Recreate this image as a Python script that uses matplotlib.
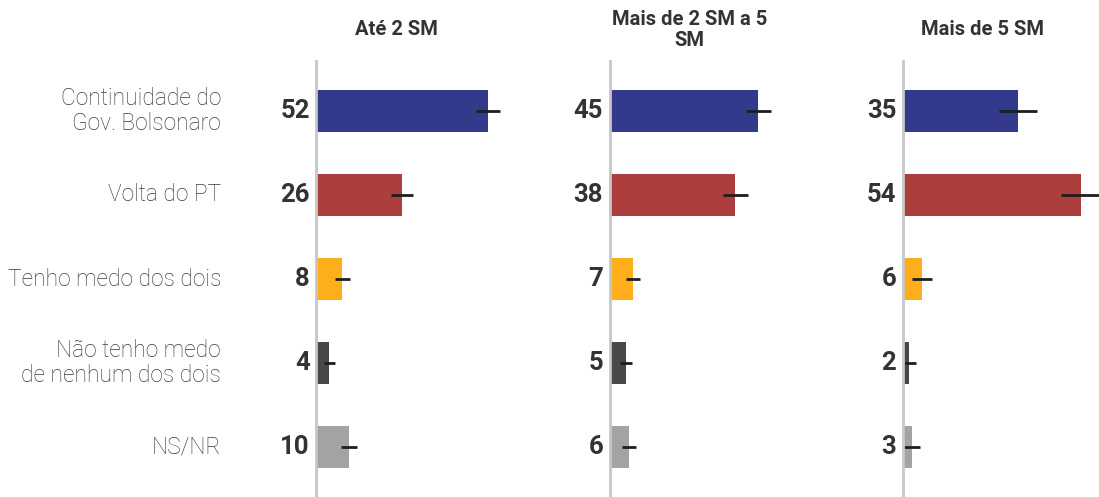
import numpy as np
import matplotlib.pyplot as plt

# categorias e valores (%)
categorias = ["Continuidade do\nGov. Bolsonaro", "Volta do PT", "Tenho medo dos dois",
              "Não tenho medo\nde nenhum dos dois", "NS/NR"]
titulos = ["Até 2 SM", "Mais de 2 SM a 5\nSM", "Mais de 5 SM"]
valores_ate2 = [52, 26, 8, 4, 10]
valores_2a5 = [45, 38, 7, 5, 6]
valores_mais5 = [35, 54, 6, 2, 3]
# margem de erro (pontos percentuais)
erro_ate2 = [3.6, 3.4, 2.3, 1.7, 2.4]
erro_2a5 = [3.9, 3.7, 2.1, 1.9, 2.1]
erro_mais5 = [5.7, 6.0, 3.0, 2.1, 2.4]

cores = ["#343a8b", "#ad3e3e", "#feae1b", "#484848", "#a3a3a3"]

plt.rcParams['font.family'] = ['Roboto', 'DejaVu Sans']

W, H = 1099, 497
fig = plt.figure(figsize=(W / 100, H / 100), dpi=100)

eixos_x = [316, 609.5, 902.5]  # posicao do zero de cada painel (px)
px_por_unidade = 3.31
largura_px = 196.5
xmax = largura_px / px_por_unidade

series = [valores_ate2, valores_2a5, valores_mais5]
erros = [erro_ate2, erro_2a5, erro_mais5]
y = np.arange(len(categorias))

for i, (vals, errs, titulo) in enumerate(zip(series, erros, titulos)):
    ax = fig.add_axes([eixos_x[i] / W, 0, largura_px / W, 1 - 61 / H])
    ax.barh(y, vals, height=0.5, color=cores)
    ax.errorbar(vals, y, xerr=errs, fmt='none', ecolor='#1e1e1e', elinewidth=2, capsize=0)
    ax.set_xlim(0, xmax)
    ax.set_ylim(4.595, -0.595)
    for s in ['top', 'right', 'bottom']:
        ax.spines[s].set_visible(False)
    ax.spines['left'].set_color('#c6c6c6')
    ax.spines['left'].set_linewidth(2)
    ax.set_xticks([])
    ax.set_yticks([])
    for yy, v in zip(y, vals):
        ax.annotate(str(v), (0, yy), xytext=(-4.5, 0), textcoords='offset points',
                    ha='right', va='center', fontsize=18.5, fontweight='bold', color='#333333')
    # titulo do painel
    ax.text(80 / largura_px, 1 + 31 / (H - 61), titulo, transform=ax.transAxes,
            ha='center', va='center', fontsize=14.5, fontweight='bold', color='#333333',
            linespacing=1.15)
    if i == 0:
        for yy, c in zip(y, categorias):
            ax.annotate(c, (0, yy), xytext=(-95 * 72 / 100, 0), textcoords='offset points',
                        ha='right', va='center', fontsize=16.4, fontweight='light',
                        color='#3a3a3a', linespacing=1.12)

fig.savefig('out.png', dpi=100)
